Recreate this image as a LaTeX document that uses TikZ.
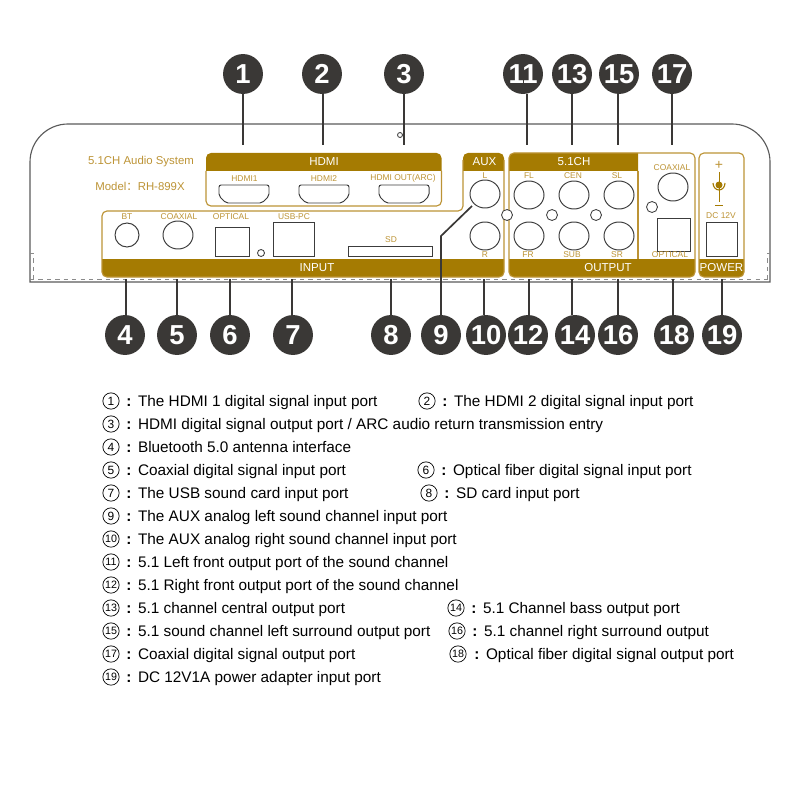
\documentclass[tikz,border=0pt]{standalone}
\usepackage{fontspec}
\setmainfont{Liberation Sans}
\newfontfamily\cjk{Noto Sans CJK SC}
\definecolor{goldbar}{HTML}{A57B02}
\definecolor{goldtext}{HTML}{BC9335}
\definecolor{calldark}{HTML}{3A3836}
\definecolor{caseline}{HTML}{5A5A5A}
\definecolor{portline}{HTML}{3C3C3C}
\tikzset{
  callout/.style={circle, fill=calldark, text=white, inner sep=0pt, minimum size=28.4pt, font=\fontsize{19.5}{20}\selectfont\bfseries},
  leader/.style={draw=calldark, line width=1.2pt},
  panel/.style={draw=goldtext, line width=0.8pt, rounded corners=3.5pt},
  band/.style={fill=goldbar},
  bandtext/.style={text=white, inner sep=0pt, font=\fontsize{8.2}{9}\selectfont},
  tinylabel/.style={text=goldtext, inner sep=0pt, font=\fontsize{6}{6}\selectfont},
  modellabel/.style={text=goldtext, inner sep=0pt, font=\fontsize{8.1}{9}\selectfont},
  port/.style={draw=portline, line width=0.7pt},
  hole/.style={draw=portline, line width=0.6pt, fill=white},
  legmark/.style={circle, draw=black, line width=0.5pt, inner sep=0pt, minimum size=11.6pt, font=\fontsize{8.5}{9}\selectfont},
  legmarkb/.style={legmark, font=\fontsize{7.6}{8}\selectfont},
  legtext/.style={anchor=west, inner sep=0pt, text height=9.4pt, text depth=1pt, font=\fontsize{10.9}{12}\selectfont},
}
\newcommand{\hdmiport}[1]{%
  \draw[port, rounded corners=1.5pt] (#1,185) -- (#1,196) -- ++(7,7) -- ++(36,0) -- ++(7,-7) -- ++(0,-11) -- cycle;}
\newcommand{\legsep}{\textbf{:}\hspace{4.75pt}}
\begin{document}
\begin{tikzpicture}[x=0.025cm, y=-0.025cm]
  \useasboundingbox (0,0) rectangle (800,800);
  % case
  \draw[caseline, line width=0.8pt] (30,282) -- (30,162) arc[start angle=180, end angle=90, x radius=38, y radius=-38] -- (732,124) arc[start angle=90, end angle=0, x radius=38, y radius=-38] -- (770,282) -- cycle;
  \draw[caseline!70, line width=0.5pt, dashed] (30,279) -- (770,279);
  \draw[caseline!70, line width=0.4pt, dashed] (30,253) -- (33,253) -- (33,279);
  \draw[caseline!70, line width=0.4pt, dashed] (770,253) -- (767,253) -- (767,279);
  \draw[hole] (400,135) circle (2.5);
  % panels
  \fill[band] (206,171) {[rounded corners=3.5pt] -- (206,153) -- (441.5,153)} -- (441.5,171) -- cycle;
  \draw[panel] (206,171) -- (206,206) -- (441.5,206) -- (441.5,171);
  \fill[band] (463,171) {[rounded corners=3.5pt] -- (463,153) -- (504,153)} -- (504,171) -- cycle;
  \fill[band] (102,259) {[rounded corners=3.5pt] -- (102,277) -- (504,277)} -- (504,259) -- cycle;
  \draw[panel] (463,160) -- (463,211) -- (102,211) -- (102,277) -- (504,277) -- (504,160);
  \fill[band] (509,171) {[rounded corners=3.5pt] -- (509,153)} -- (638,153) -- (638,171) -- cycle;
  \fill[band] (509,259) {[rounded corners=3.5pt] -- (509,277) -- (695,277)} -- (695,259) -- cycle;
  \draw[panel] (509,153) -- (695,153) -- (695,277) -- (509,277) -- cycle;
  \draw[goldtext, line width=0.8pt] (638,171) -- (638,259);
  \fill[band] (699,259) {[rounded corners=3.5pt] -- (699,277) -- (744,277)} -- (744,259) -- cycle;
  \draw[panel] (699,153) rectangle (744,277);
  % band texts
  \node[bandtext] (hdmi) at (324,162) {HDMI};
  \node[bandtext] (aux) at (484.5,162) {AUX};
  \node[bandtext] (ch) at (574,162) {5.1CH};
  \node[bandtext] (input) at (317,268) {INPUT};
  \node[bandtext] (output) at (608,268) {OUTPUT};
  \node[bandtext] (power) at (721.5,268) {POWER};
  \node[modellabel] (sys) at (141,162) {5.1CH Audio System};
  \node[modellabel] (model) at (140,186) {Model{\cjk ：}RH-899X};
  % hdmi ports
  \hdmiport{219}
  \hdmiport{299}
  \hdmiport{379}
  \node[tinylabel] (lhdmia) at (244.5,178.5) {HDMI1};
  \node[tinylabel] (lhdmib) at (324,178.5) {HDMI2};
  \node[tinylabel] (lhdmic) at (403,178.5) {HDMI OUT(ARC)};
  % input ports
  \draw[port] (127,235) circle (12);
  \draw[port] (178,235) circle[x radius=15, y radius=14];
  \draw[port] (215,227) rectangle (249,256);
  \draw[hole] (261,253) circle (3.5);
  \draw[port] (273,222) rectangle (314,256);
  \draw[port] (348,246) rectangle (432,256);
  \node[tinylabel] (lbt) at (127,217) {BT};
  \node[tinylabel] (lcoaxa) at (179,217) {COAXIAL};
  \node[tinylabel] (lopta) at (231,217) {OPTICAL};
  \node[tinylabel] (lusb) at (294,217) {USB-PC};
  \node[tinylabel] (lsd) at (391,240) {SD};
  % aux and 5.1 ports
  \draw[port] (485,194) circle[x radius=15, y radius=14];
  \draw[port] (485,236) circle[x radius=15, y radius=14];
  \draw[port] (529,195) circle[x radius=15, y radius=14];
  \draw[port] (529,236) circle[x radius=15, y radius=14];
  \draw[port] (574,195) circle[x radius=15, y radius=14];
  \draw[port] (574,236) circle[x radius=15, y radius=14];
  \draw[port] (619,195) circle[x radius=15, y radius=14];
  \draw[port] (619,236) circle[x radius=15, y radius=14];
  \draw[hole] (507,215) circle (5.5);
  \draw[hole] (552,215) circle (5.5);
  \draw[hole] (596,215) circle (5.5);
  \draw[hole] (652,207) circle (5.5);
  \draw[port] (673,187) circle[x radius=15, y radius=14];
  \draw[port] (657,218) rectangle (690,251);
  \node[tinylabel] (ll) at (485,176) {L};
  \node[tinylabel] (lr) at (485,255) {R};
  \node[tinylabel] (lfl) at (529,176) {FL};
  \node[tinylabel] (lcen) at (573,176) {CEN};
  \node[tinylabel] (lsl) at (617,176) {SL};
  \node[tinylabel] (lfr) at (528,255) {FR};
  \node[tinylabel] (lsub) at (572,255) {SUB};
  \node[tinylabel] (lsr) at (617,255) {SR};
  \node[tinylabel] (lcoaxb) at (672,168) {COAXIAL};
  \node[tinylabel] (loptb) at (670,255) {OPTICAL};
  % power
  \node[tinylabel, font=\fontsize{10}{10}\selectfont] (lplus) at (719,165.5) {+};
  \draw[goldbar, line width=0.7pt] (719,172) -- (719,202);
  \fill[goldbar] (719,185) circle (3.5);
  \draw[goldbar, line width=0.8pt] (713,183) arc[start angle=180, end angle=360, x radius=6, y radius=-7];
  \draw[goldbar, line width=0.7pt] (715,205.5) -- (723,205.5);
  \draw[port] (706,222) rectangle (737,256);
  \node[tinylabel] (ldc) at (721,215.5) {DC 12V};
  % callouts
  \node[callout] (n1) at (243,74) {1};
  \node[callout] (n2) at (322,74) {2};
  \node[callout] (n3) at (404,74) {3};
  \node[callout] (n11) at (523,74) {11};
  \node[callout] (n13) at (572,74) {13};
  \node[callout] (n15) at (619,74) {15};
  \node[callout] (n17) at (672,74) {17};
  \node[callout] (n4) at (125,335) {4};
  \node[callout] (n5) at (177,335) {5};
  \node[callout] (n6) at (230,335) {6};
  \node[callout] (n7) at (293,335) {7};
  \node[callout] (n8) at (391,335) {8};
  \node[callout] (n9) at (441,335) {9};
  \node[callout] (n10) at (486,335) {10};
  \node[callout] (n12) at (528,335) {12};
  \node[callout] (n14) at (575,335) {14};
  \node[callout] (n16) at (618,335) {16};
  \node[callout] (n18) at (674,335) {18};
  \node[callout] (n19) at (722,335) {19};
  % leaders
  \coordinate (p1) at (243,145);
  \coordinate (p2) at (323,145);
  \coordinate (p3) at (404,145);
  \coordinate (p11) at (527,145);
  \coordinate (p13) at (572,145);
  \coordinate (p15) at (618,145);
  \coordinate (p17) at (672,145);
  \coordinate (p4) at (126,279);
  \coordinate (p5) at (177,279);
  \coordinate (p6) at (230,279);
  \coordinate (p7) at (292,279);
  \coordinate (p8) at (391,279);
  \coordinate (p9a) at (441,236);
  \coordinate (p9b) at (472,206);
  \coordinate (p10) at (484,279);
  \coordinate (p12) at (529,279);
  \coordinate (p14) at (572,279);
  \coordinate (p16) at (618,279);
  \coordinate (p18) at (673,279);
  \coordinate (p19) at (722,279);
  \draw[leader] (p1 |- n1.south) -- (p1);
  \draw[leader] (p2 |- n2.south) -- (p2);
  \draw[leader] (p3 |- n3.south) -- (p3);
  \draw[leader] (p11 |- n11.south) -- (p11);
  \draw[leader] (p13 |- n13.south) -- (p13);
  \draw[leader] (p15 |- n15.south) -- (p15);
  \draw[leader] (p17 |- n17.south) -- (p17);
  \draw[leader] (p4 |- n4.north) -- (p4);
  \draw[leader] (p5 |- n5.north) -- (p5);
  \draw[leader] (p6 |- n6.north) -- (p6);
  \draw[leader] (p7 |- n7.north) -- (p7);
  \draw[leader] (p8 |- n8.north) -- (p8);
  \draw[leader] (n9.north) -- (p9a) -- (p9b);
  \draw[leader] (p10 |- n10.north) -- (p10);
  \draw[leader] (p12 |- n12.north) -- (p12);
  \draw[leader] (p14 |- n14.north) -- (p14);
  \draw[leader] (p16 |- n16.north) -- (p16);
  \draw[leader] (p18 |- n18.north) -- (p18);
  \draw[leader] (p19 |- n19.north) -- (p19);
  % legend
  \node[legmark] (m1) at (111,401) {1};
  \node[legtext] (t1) at (126,401) {\legsep The HDMI 1 digital signal input port};
  \node[legmark] (m2) at (427,401) {2};
  \node[legtext] (t2) at (442,401) {\legsep The HDMI 2 digital signal input port};
  \node[legmark] (m3) at (111,424) {3};
  \node[legtext] (t3) at (126,424) {\legsep HDMI digital signal output port / ARC audio return transmission entry};
  \node[legmark] (m4) at (111,447) {4};
  \node[legtext] (t4) at (126,447) {\legsep Bluetooth 5.0 antenna interface};
  \node[legmark] (m5) at (111,470) {5};
  \node[legtext] (t5) at (126,470) {\legsep Coaxial digital signal input port};
  \node[legmark] (m6) at (426,470) {6};
  \node[legtext] (t6) at (441,470) {\legsep Optical fiber digital signal input port};
  \node[legmark] (m7) at (111,493) {7};
  \node[legtext] (t7) at (126,493) {\legsep The USB sound card input port};
  \node[legmark] (m8) at (429,493) {8};
  \node[legtext] (t8) at (444,493) {\legsep SD card input port};
  \node[legmark] (m9) at (111,516) {9};
  \node[legtext] (t9) at (126,516) {\legsep The AUX analog left sound channel input port};
  \node[legmarkb] (m10) at (111,539) {10};
  \node[legtext] (t10) at (126,539) {\legsep The AUX analog right sound channel input port};
  \node[legmarkb] (m11) at (111,562) {11};
  \node[legtext] (t11) at (126,562) {\legsep 5.1 Left front output port of the sound channel};
  \node[legmarkb] (m12) at (111,585) {12};
  \node[legtext] (t12) at (126,585) {\legsep 5.1 Right front output port of the sound channel};
  \node[legmarkb] (m13) at (111,608) {13};
  \node[legtext] (t13) at (126,608) {\legsep 5.1 channel central output port};
  \node[legmarkb] (m14) at (456,608) {14};
  \node[legtext] (t14) at (471,608) {\legsep 5.1 Channel bass output port};
  \node[legmarkb] (m15) at (111,631) {15};
  \node[legtext] (t15) at (126,631) {\legsep 5.1 sound channel left surround output port};
  \node[legmarkb] (m16) at (457,631) {16};
  \node[legtext] (t16) at (472,631) {\legsep 5.1 channel right surround output};
  \node[legmarkb] (m17) at (111,654) {17};
  \node[legtext] (t17) at (126,654) {\legsep Coaxial digital signal output port};
  \node[legmarkb] (m18) at (458,654) {18};
  \node[legtext] (t18) at (474,654) {\legsep Optical fiber digital signal output port};
  \node[legmarkb] (m19) at (111,677) {19};
  \node[legtext] (t19) at (126,677) {\legsep DC 12V1A power adapter input port};
\end{tikzpicture}
\end{document}
